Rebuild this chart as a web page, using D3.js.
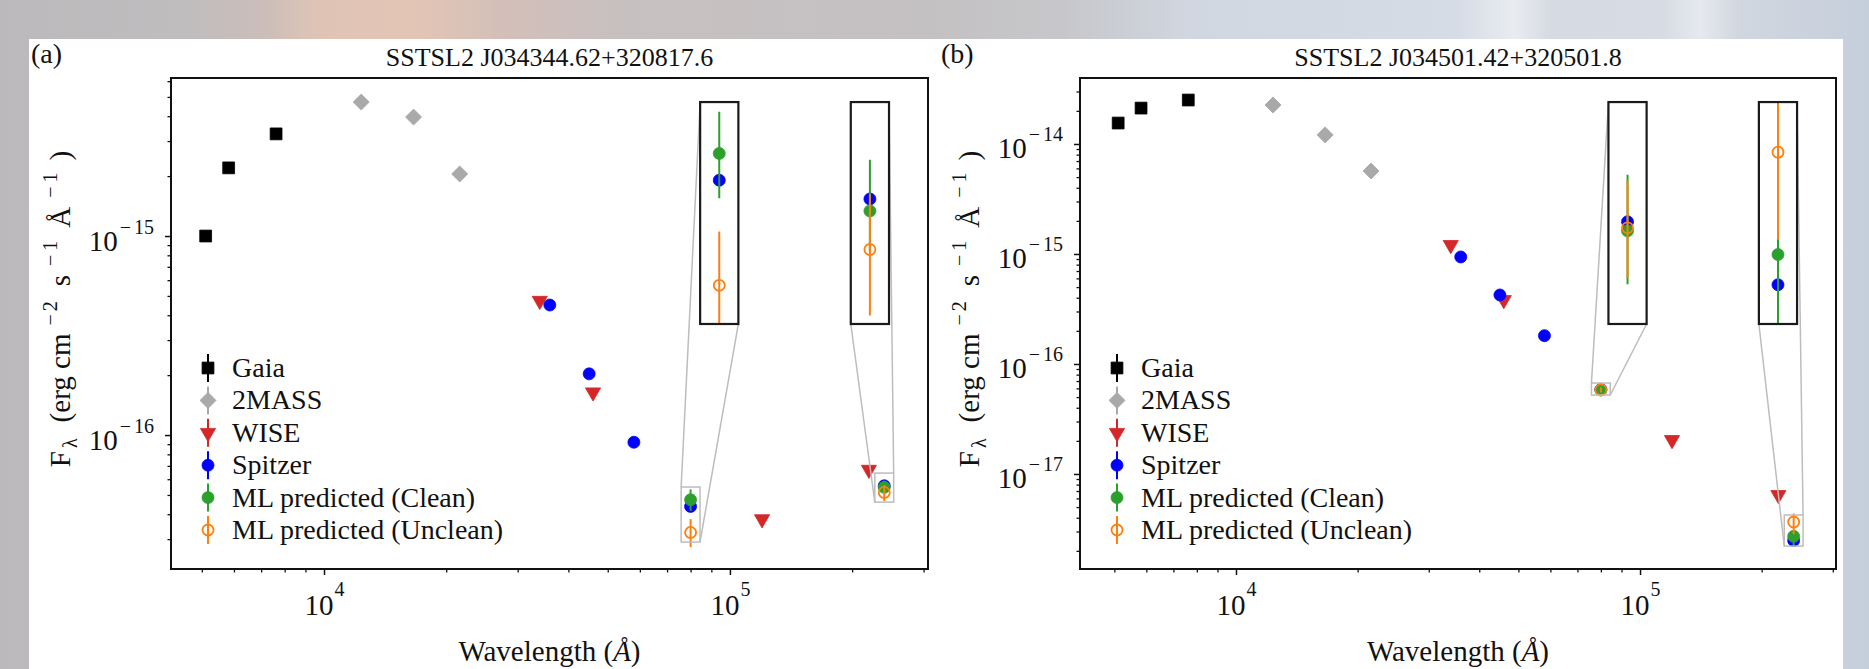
<!DOCTYPE html>
<html>
<head>
<meta charset="utf-8">
<script src="https://cdn.jsdelivr.net/npm/d3@7/dist/d3.min.js"></script>
<style>
html,body{margin:0;padding:0;background:#fff;overflow:hidden}
svg{display:block}
</style>
</head>
<body>
<svg id="chart" width="1869" height="669"></svg>
<script>
// ---------------- data ----------------
const titles = ["SSTSL2 J034344.62+320817.6", "SSTSL2 J034501.42+320501.8"];
const panelLabels = ["(a)", "(b)"];
const legendLabels = ["Gaia", "2MASS", "WISE", "Spitzer", "ML predicted (Clean)", "ML predicted (Unclean)"];
const xTickValues = [1e4, 1e5];
const yTickValuesA = [1e-16, 1e-15];
const yTickValuesB = [1e-17, 1e-16, 1e-15, 1e-14];

// wavelengths (Angstrom)
const gaiaWave = [5110, 5822, 7620];
const twomassWave = [12350, 16620, 21590];
const wiseWave = [34000, 46000, 120000, 220000];
const spitzerWave = [36000, 45000, 58000, 80000, 240000];
const predWave = [80000, 240000];

// panel (a) fluxes
const gaiaA = [1.00e-15, 2.20e-15, 3.26e-15];
const twomassA = [4.71e-15, 3.96e-15, 2.05e-15];
const wiseA = [4.73e-16, 1.64e-16, 3.78e-17, 6.70e-17];
const spitzerA = [4.50e-16, 2.03e-16, 9.20e-17, 4.38e-17, 5.56e-17];
const cleanA = [4.73e-17, 5.46e-17];
const cleanLowA = [4.16e-17, 5.13e-17];
const cleanHighA = [5.33e-17, 5.90e-17];
const uncleanA = [3.24e-17, 5.15e-17];
const uncleanLowA = [2.74e-17, 4.66e-17];
const uncleanHighA = [3.78e-17, 5.60e-17];

// panel (b) fluxes
const gaiaB = [1.55e-14, 2.12e-14, 2.51e-14];
const twomassB = [2.26e-14, 1.21e-14, 5.68e-15];
const wiseB = [1.21e-15, 3.82e-16, 2.04e-17, 6.45e-18];
const spitzerB = [9.40e-16, 4.24e-16, 1.81e-16, 5.86e-17, 2.48e-18];
const cleanB = [5.80e-17, 2.71e-18];
const cleanLowB = [5.46e-17, 2.19e-18];
const cleanHighB = [6.18e-17, 3.02e-18];
const uncleanB = [5.82e-17, 3.66e-18];
const uncleanLowB = [5.50e-17, 2.83e-18];
const uncleanHighB = [6.14e-17, 4.37e-18];

// axis limits
const xLimitsA = [4198, 307600];
const yLimitsA = [2.123e-17, 6.223e-15];
const xLimitsB = [4111, 305500];
const yLimitsB = [1.368e-18, 3.98e-14];
// zoomed flux ranges of the insets
const zoomYA = [[2.90e-17, 5.48e-17], [4.60e-17, 6.44e-17]];
const zoomYB = [[5.22e-17, 6.71e-17], [2.21e-18, 4.24e-18]];
const zoomXFactor = 1.055;

// ---------------- styles / layout ----------------
const W = 1869, H = 669;
const SERIF = "'Liberation Serif','Times New Roman',Times,serif";
const INK = "#111";
const styles = [
  {shape: "square", color: "#000000"},
  {shape: "diamond", color: "#a9a9a9"},
  {shape: "triDown", color: "#d62728"},
  {shape: "circle", color: "#0000ff"},
  {shape: "circle", color: "#2ca02c"},
  {shape: "open", color: "#ff7f0e"}
];

const panels = [
  {id: "a", box: {left: 171, top: 78, width: 757, height: 491}, label: panelLabels[0], title: titles[0],
   xLim: xLimitsA, yLim: yLimitsA, yTicks: yTickValuesA, zoomY: zoomYA, labelX: 31,
   series: [
     {wave: gaiaWave, val: gaiaA}, {wave: twomassWave, val: twomassA}, {wave: wiseWave, val: wiseA},
     {wave: spitzerWave, val: spitzerA},
     {wave: predWave, val: cleanA, lo: cleanLowA, hi: cleanHighA},
     {wave: predWave, val: uncleanA, lo: uncleanLowA, hi: uncleanHighA}]},
  {id: "b", box: {left: 1080, top: 78, width: 756, height: 491}, label: panelLabels[1], title: titles[1],
   xLim: xLimitsB, yLim: yLimitsB, yTicks: yTickValuesB, zoomY: zoomYB, labelX: 941,
   series: [
     {wave: gaiaWave, val: gaiaB}, {wave: twomassWave, val: twomassB}, {wave: wiseWave, val: wiseB},
     {wave: spitzerWave, val: spitzerB},
     {wave: predWave, val: cleanB, lo: cleanLowB, hi: cleanHighB},
     {wave: predWave, val: uncleanB, lo: uncleanLowB, hi: uncleanHighB}]}
];
const insetFracLeft = [0.699, 0.898];
const insetFracTop = 0.049, insetFracW = 0.0505, insetFracH = 0.452;

const svg = d3.select("#chart");
const defs = svg.append("defs");

// ---------------- background ----------------
const grad = defs.append("linearGradient").attr("id", "bgGrad")
  .attr("x1", 0).attr("x2", 1).attr("y1", 0).attr("y2", 0);
[[0, "#bbb9bb"], [0.10, "#c0bdbf"], [0.14, "#cbbdb9"], [0.17, "#dfc4b6"], [0.22, "#e3c5b5"],
 [0.27, "#d3bfb9"], [0.33, "#c7c0c0"], [0.5, "#c4c1c2"], [0.57, "#c7c7cb"], [0.64, "#d1d7e1"],
 [0.78, "#d6dce6"], [0.81, "#e9ecf0"], [0.83, "#d5dae3"], [0.89, "#d7dce4"], [0.91, "#e6e9ee"],
 [0.93, "#d1d7e0"], [1, "#c5cedb"]].forEach(([o, c]) =>
  grad.append("stop").attr("offset", o).attr("stop-color", c));
svg.append("rect").attr("width", W).attr("height", H).attr("fill", "url(#bgGrad)");
svg.append("rect").attr("x", 29).attr("y", 39).attr("width", 1814).attr("height", H - 39).attr("fill", "#fff");

// ---------------- helpers ----------------
function markerPath(shape) {
  if (shape === "square") return d3.symbol(d3.symbolSquare, 140)();
  if (shape === "diamond") return d3.symbol(d3.symbolSquare, 128)();
  if (shape === "triDown") return d3.symbol(d3.symbolTriangle, 100)();
  return d3.symbol(d3.symbolCircle, 113)();
}
function markerRot(shape) {
  return shape === "diamond" ? 45 : (shape === "triDown" ? 180 : 0);
}
function drawMarker(g, shape, color, px, py) {
  const p = g.append("path").attr("d", markerPath(shape))
    .attr("transform", `translate(${px},${py}) rotate(${markerRot(shape)})`);
  if (shape === "open") {
    p.attr("d", d3.symbol(d3.symbolCircle, 95)()).attr("fill", "none")
      .attr("stroke", color).attr("stroke-width", 1.8);
  } else {
    p.attr("fill", color).attr("stroke", color).attr("stroke-width", 0.8);
  }
}
function drawSeries(g, xs, ys) {
  return function (s, i) {
    const st = styles[i];
    if (s.lo) {
      s.wave.forEach((w, k) => {
        g.append("line").attr("x1", xs(w)).attr("x2", xs(w))
          .attr("y1", ys(s.lo[k])).attr("y2", ys(s.hi[k]))
          .attr("stroke", st.color).attr("stroke-width", 2);
      });
    }
    s.wave.forEach((w, k) => drawMarker(g, st.shape, st.color, xs(w), ys(s.val[k])));
  };
}
function logMinor(dom) {
  const out = [];
  const lo = Math.floor(Math.log10(dom[0])), hi = Math.ceil(Math.log10(dom[1]));
  for (let e = lo; e <= hi; e++) for (let k = 2; k <= 9; k++) {
    const v = k * Math.pow(10, e);
    if (v >= dom[0] && v <= dom[1]) out.push(v);
  }
  return out;
}
function expText(t, d, mainSize, supSize, supDy) {
  const e = Math.round(Math.log10(d));
  t.append("tspan").attr("font-size", mainSize).text("10");
  if (e < 0) {
    t.append("tspan").attr("font-size", supSize).attr("dy", supDy).attr("dx", 2).text("\u2212");
    t.append("tspan").attr("font-size", supSize).attr("dx", 3).text(String(-e));
  } else {
    t.append("tspan").attr("font-size", supSize).attr("dy", supDy).attr("dx", 1).text(String(e));
  }
}

// ---------------- panels ----------------
panels.forEach(P => {
  const B = P.box;
  const x = d3.scaleLog().domain(P.xLim).range([B.left, B.left + B.width]);
  const y = d3.scaleLog().domain(P.yLim).range([B.top + B.height, B.top]);
  const clipId = "clip-" + P.id;
  defs.append("clipPath").attr("id", clipId).append("rect")
    .attr("x", B.left).attr("y", B.top).attr("width", B.width).attr("height", B.height);

  // minor + major ticks, x
  const gxm = svg.append("g").attr("transform", `translate(0,${B.top + B.height})`)
    .call(d3.axisBottom(x).tickValues(logMinor(P.xLim)).tickSize(3.5).tickFormat(""));
  gxm.select(".domain").remove();
  gxm.selectAll("line").attr("stroke", INK).attr("stroke-width", 1.3);
  const gx = svg.append("g").attr("transform", `translate(0,${B.top + B.height})`)
    .call(d3.axisBottom(x).tickValues(xTickValues).tickSize(6).tickFormat(""));
  gx.select(".domain").remove();
  gx.selectAll("line").attr("stroke", INK).attr("stroke-width", 1.5);
  gx.selectAll(".tick").each(function (d) {
    const t = d3.select(this).append("text").attr("y", 46).attr("text-anchor", "middle")
      .attr("fill", INK).attr("font-family", SERIF);
    expText(t, d, 29, 20, -19);
  });

  // y ticks
  const gym = svg.append("g").attr("transform", `translate(${B.left},0)`)
    .call(d3.axisLeft(y).tickValues(logMinor(P.yLim)).tickSize(3.5).tickFormat(""));
  gym.select(".domain").remove();
  gym.selectAll("line").attr("stroke", INK).attr("stroke-width", 1.3);
  const gy = svg.append("g").attr("transform", `translate(${B.left},0)`)
    .call(d3.axisLeft(y).tickValues(P.yTicks).tickSize(6).tickFormat(""));
  gy.select(".domain").remove();
  gy.selectAll("line").attr("stroke", INK).attr("stroke-width", 1.5);
  gy.selectAll(".tick").each(function (d) {
    const t = d3.select(this).append("text").attr("x", -17).attr("y", 14).attr("text-anchor", "end")
      .attr("fill", INK).attr("font-family", SERIF);
    expText(t, d, 29, 20, -17);
  });

  // data
  const gd = svg.append("g").attr("clip-path", `url(#${clipId})`);
  P.series.forEach(drawSeries(gd, x, y));

  // insets
  const cx = B.left + B.width / 2;
  predWave.forEach((w, i) => {
    const ix0 = B.left + B.width * insetFracLeft[i];
    const iTop = B.top + B.height * insetFracTop;
    const iw = B.width * insetFracW, ih = B.height * insetFracH;
    const ix1 = ix0 + iw, iBot = iTop + ih;
    const zx = [w / zoomXFactor, w * zoomXFactor];
    const zy = P.zoomY[i];
    const rx0 = x(zx[0]), rx1 = x(zx[1]), rTop = y(zy[1]), rBot = y(zy[0]);
    // source rectangle
    svg.append("rect").attr("x", rx0).attr("y", rTop).attr("width", rx1 - rx0).attr("height", rBot - rTop)
      .attr("fill", "none").attr("stroke", "#bdbdbd").attr("stroke-width", 1.5);
    // connectors (matplotlib indicate_inset_zoom visibility rule)
    const cX0 = rx0 < ix0, cX1 = rx1 < ix1, cY0 = rBot > iBot, cY1 = rTop > iTop;
    const conns = [
      [ix0, iBot, rx0, rBot, cX0 !== cY0],
      [ix0, iTop, rx0, rTop, cX0 === cY1],
      [ix1, iBot, rx1, rBot, cX1 === cY0],
      [ix1, iTop, rx1, rTop, cX1 !== cY1]];
    conns.filter(c => c[4]).forEach(c => svg.append("line")
      .attr("x1", c[0]).attr("y1", c[1]).attr("x2", c[2]).attr("y2", c[3])
      .attr("stroke", "#bdbdbd").attr("stroke-width", 1.5));
    // inset axes
    const ixs = d3.scaleLog().domain(zx).range([ix0, ix1]);
    const iys = d3.scaleLog().domain(zy).range([iBot, iTop]);
    const icid = `iclip-${P.id}-${i}`;
    defs.append("clipPath").attr("id", icid).append("rect")
      .attr("x", ix0).attr("y", iTop).attr("width", iw).attr("height", ih);
    svg.append("rect").attr("x", ix0).attr("y", iTop).attr("width", iw).attr("height", ih).attr("fill", "#fff");
    const gi = svg.append("g").attr("clip-path", `url(#${icid})`);
    P.series.forEach(drawSeries(gi, ixs, iys));
    svg.append("rect").attr("x", ix0).attr("y", iTop).attr("width", iw).attr("height", ih)
      .attr("fill", "none").attr("stroke", "#1a1a1a").attr("stroke-width", 2.2);
  });

  // frame
  svg.append("rect").attr("x", B.left).attr("y", B.top).attr("width", B.width).attr("height", B.height)
    .attr("fill", "none").attr("stroke", INK).attr("stroke-width", 2);

  // legend
  const lg = svg.append("g");
  legendLabels.forEach((lab, i) => {
    const ry = B.top + 290 + i * 32.4, mx = B.left + 37;
    lg.append("line").attr("x1", mx).attr("x2", mx).attr("y1", ry - 14).attr("y2", ry + 14)
      .attr("stroke", styles[i].color).attr("stroke-width", 2);
    drawMarker(lg, styles[i].shape, styles[i].color, mx, ry);
    lg.append("text").attr("x", B.left + 61).attr("y", ry + 9).attr("font-family", SERIF)
      .attr("font-size", 28).attr("fill", INK).text(lab);
  });

  // title, panel label
  svg.append("text").attr("x", cx).attr("y", 66).attr("text-anchor", "middle")
    .attr("font-family", SERIF).attr("font-size", 26).attr("fill", INK).text(P.title);
  svg.append("text").attr("x", P.labelX).attr("y", 63)
    .attr("font-family", SERIF).attr("font-size", 28).attr("fill", INK).text(P.label);

  // x label
  const xl = svg.append("text").attr("x", cx).attr("y", 661).attr("text-anchor", "middle")
    .attr("font-family", SERIF).attr("font-size", 29).attr("fill", INK);
  xl.append("tspan").text("Wavelength (");
  xl.append("tspan").attr("font-style", "italic").text("\u00C5");
  xl.append("tspan").text(")");

  // y label
  const yl = svg.append("text").attr("transform", `translate(${B.left - 101},309) rotate(-90)`)
    .attr("text-anchor", "middle").attr("font-family", SERIF).attr("font-size", 29).attr("fill", INK);
  yl.append("tspan").text("F");
  yl.append("tspan").attr("font-size", 20).attr("dx", 3).attr("dy", 7).text("\u03BB");
  yl.append("tspan").attr("dx", 16).attr("dy", -7).text("(erg cm");
  yl.append("tspan").attr("font-size", 20).attr("dx", 8).attr("dy", -13).text("\u2212");
  yl.append("tspan").attr("font-size", 20).attr("dx", 3).text("2");
  yl.append("tspan").attr("dx", 15).attr("dy", 13).text("s");
  yl.append("tspan").attr("font-size", 20).attr("dx", 9).attr("dy", -13).text("\u2212");
  yl.append("tspan").attr("font-size", 20).attr("dx", 4).text("1");
  yl.append("tspan").attr("dx", 13).attr("dy", 13).text("\u00C5");
  yl.append("tspan").attr("font-size", 20).attr("dx", 9).attr("dy", -13).text("\u2212");
  yl.append("tspan").attr("font-size", 20).attr("dx", 4).text("1");
  yl.append("tspan").attr("dx", 12).attr("dy", 13).text(")");
});
</script>
</body>
</html>
